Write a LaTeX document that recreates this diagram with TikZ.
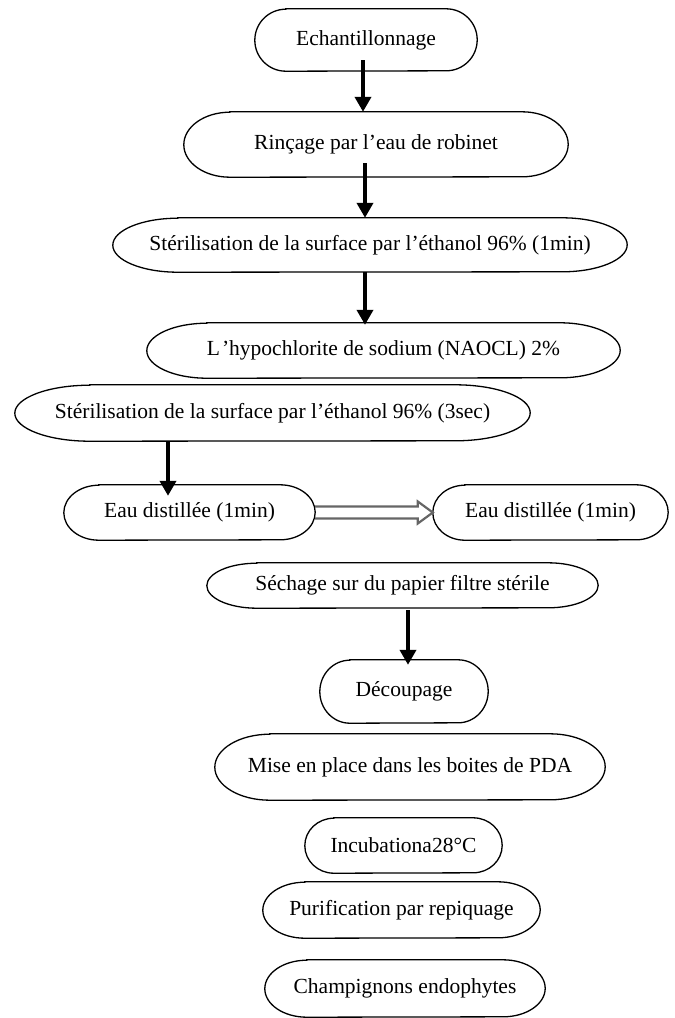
\documentclass[tikz,border=0pt]{standalone}
\usepackage{fontspec}
\setmainfont{Liberation Serif}
\usetikzlibrary{arrows.meta}
\tikzset{
  txt/.style={inner sep=0pt, font=\fontsize{21.5pt}{26pt}\selectfont},
  boxline/.style={draw=black, line width=1.3pt},
  arr/.style={draw=black, line width=4.5pt, -{Triangle[length=15pt,width=16pt]}},
  dbl/.style={draw=black!60, line width=2.2pt, line join=miter}
}
% name, x radius, half height
\newcommand\stadshape[3]{%
  \draw[boxline] ([xshift=#2]#1.north west) -- ([xshift=-#2]#1.north east)
    arc[start angle=90,end angle=-90,x radius=#2,y radius=#3]
    -- ([xshift=#2]#1.south west)
    arc[start angle=270,end angle=90,x radius=#2,y radius=#3] -- cycle;}
\begin{document}
\begin{tikzpicture}[x=1pt,y=1pt]
\useasboundingbox (0,0) rectangle (675,-1018);
% nodes (centre x, -centre y), min width, min height
\node[txt, minimum width=222pt, minimum height=62pt] (e1) at (366,-40) {Echantillonnage};
\node[txt, minimum width=384pt, minimum height=65pt] (e2) at (376,-144.5) {Rinçage par l’eau de robinet};
\node[txt, minimum width=514pt, minimum height=54pt] (e3) at (370,-245) {Stérilisation de la surface par l’éthanol 96\% (1min)};
\node[txt, minimum width=473pt, minimum height=55pt] (e4) at (383.5,-350.5) {L\kern2pt’hypochlorite de sodium (NAOCL) 2\%};
\node[txt, minimum width=515pt, minimum height=56pt] (e5) at (272.5,-413) {Stérilisation de la surface par l’éthanol 96\% (3sec)};
\node[txt, minimum width=251pt, minimum height=55pt] (e6) at (189.5,-512.5) {Eau distillée (1min)};
\node[txt, minimum width=235pt, minimum height=55pt] (e7) at (550.5,-512.5) {Eau distillée (1min)};
\node[txt, minimum width=391pt, minimum height=45pt] (e8) at (402.5,-585.5) {Séchage sur du papier filtre stérile};
\node[txt, minimum width=168pt, minimum height=63pt] (e9) at (404,-691.5) {Découpage};
\node[txt, minimum width=390pt, minimum height=66pt] (e10) at (410,-767) {Mise en place dans les boites de PDA};
\node[txt, minimum width=197pt, minimum height=55pt] (e11) at (403.5,-845.5) {Incubationa28°C};
\node[txt, minimum width=277pt, minimum height=56pt] (e12) at (401.5,-910) {Purification par repiquage};
\node[txt, minimum width=280pt, minimum height=57pt] (e13) at (405,-988.5) {Champignons endophytes};
% outlines
\stadshape{e1}{31pt}{31pt}
\stadshape{e2}{46pt}{32.5pt}
\stadshape{e3}{65pt}{27pt}
\stadshape{e4}{60pt}{27.5pt}
\stadshape{e5}{75pt}{28pt}
\stadshape{e6}{35pt}{27.5pt}
\stadshape{e7}{32pt}{27.5pt}
\stadshape{e8}{50pt}{22.5pt}
\stadshape{e9}{30pt}{31.5pt}
\stadshape{e10}{55pt}{33pt}
\stadshape{e11}{29pt}{27.5pt}
\stadshape{e12}{42pt}{28pt}
\stadshape{e13}{42pt}{28.5pt}
% arrows
\draw[arr] ([xshift=-3pt,yshift=11pt]e1.south) -- ([xshift=-3pt]e1.south |- e2.north);
\draw[arr] ([xshift=-11pt,yshift=14pt]e2.south) -- ([xshift=-11pt]e2.south |- e3.north);
\draw[arr] ([xshift=-5pt]e3.south) -- ([xshift=-5pt,yshift=-2pt]e3.south |- e4.north);
\draw[arr] ([xshift=-104.5pt]e5.south) -- ([xshift=-104.5pt,yshift=-11pt]e5.south |- e6.north);
\draw[arr] ([xshift=5.5pt,yshift=-2pt]e8.south) -- ([xshift=5.5pt,yshift=-5pt]e8.south |- e9.north);
\draw[dbl] ([yshift=6pt]e6.east) -- ([xshift=-15pt,yshift=6pt]e7.west)
  -- ([xshift=-15pt,yshift=11pt]e7.west) -- (e7.west)
  -- ([xshift=-15pt,yshift=-11pt]e7.west) -- ([xshift=-15pt,yshift=-6pt]e7.west)
  -- ([yshift=-6pt]e6.east);
\end{tikzpicture}
\end{document}
